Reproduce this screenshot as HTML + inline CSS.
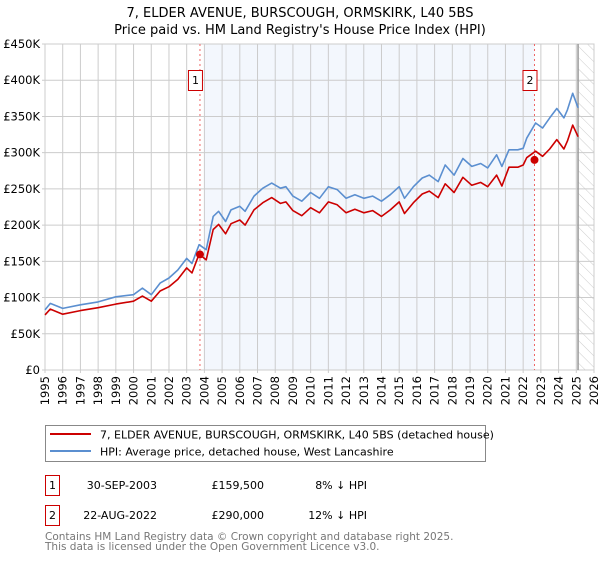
<!DOCTYPE html>
<html><head><meta charset="utf-8"><style>
body{margin:0;background:#fff;font-family:"DejaVu Sans","Liberation Sans",sans-serif;}
svg text{font-family:"DejaVu Sans","Liberation Sans",sans-serif;}
</style></head><body>
<svg id="chart" width="600" height="560" viewBox="0 0 600 560" xmlns="http://www.w3.org/2000/svg">
<defs><pattern id="hatch" width="8" height="8" patternUnits="userSpaceOnUse" patternTransform="rotate(-45)"><line x1="0" y1="0" x2="0" y2="8" stroke="#ccc" stroke-width="1"/></pattern></defs>
<text x="300" y="17" text-anchor="middle" font-size="13">7, ELDER AVENUE, BURSCOUGH, ORMSKIRK, L40 5BS</text>
<text x="300" y="34" text-anchor="middle" font-size="13">Price paid vs. HM Land Registry's House Price Index (HPI)</text>
<g id="plot"></g>
<rect x="45.5" y="425.5" width="440" height="36" fill="#fff" stroke="#888"/>
<line x1="50" y1="434" x2="91" y2="434" stroke="#cc0000" stroke-width="2"/>
<text x="100" y="438.5" font-size="11">7, ELDER AVENUE, BURSCOUGH, ORMSKIRK, L40 5BS (detached house)</text>
<line x1="50" y1="451" x2="91" y2="451" stroke="#5b8fd0" stroke-width="2"/>
<text x="100" y="455.5" font-size="11">HPI: Average price, detached house, West Lancashire</text>
<g font-size="11">
<rect x="45.5" y="475.5" width="14" height="20" fill="#fff" stroke="#cc0000"/>
<text x="52.5" y="489" text-anchor="middle">1</text>
<text x="157" y="489" text-anchor="end">30-SEP-2003</text>
<text x="264" y="489" text-anchor="end">£159,500</text>
<text x="367" y="489" text-anchor="end">8% ↓ HPI</text></g>
<g font-size="11">
<rect x="45.5" y="505.5" width="14" height="20" fill="#fff" stroke="#cc0000"/>
<text x="52.5" y="519" text-anchor="middle">2</text>
<text x="157" y="519" text-anchor="end">22-AUG-2022</text>
<text x="264" y="519" text-anchor="end">£290,000</text>
<text x="367" y="519" text-anchor="end">12% ↓ HPI</text></g>
<text x="45" y="540" font-size="10.5" fill="#777">Contains HM Land Registry data © Crown copyright and database right 2025.</text>
<text x="45" y="550" font-size="10.5" fill="#777">This data is licensed under the Open Government Licence v3.0.</text>
</svg>
<script>
const years=[1995,1995.3,1996,1997,1998,1999,2000,2000.5,2001,2001.5,2002,2002.5,2003,2003.3,2003.7,2004.1,2004.5,2004.8,2005.2,2005.5,2006,2006.3,2006.8,2007.3,2007.8,2008.3,2008.6,2009,2009.5,2010,2010.5,2011,2011.5,2012,2012.5,2013,2013.5,2014,2014.5,2015,2015.3,2015.8,2016.3,2016.7,2017.2,2017.6,2018.1,2018.6,2019.1,2019.6,2020,2020.5,2020.8,2021.2,2021.7,2022,2022.2,2022.7,2023.1,2023.5,2023.9,2024.3,2024.5,2024.8,2025.1];
const hpi=[83,92,85,90,94,101,104,113,104,120,127,138,154,147,173,166,212,219,205,221,226,219,240,251,258,251,253,240,233,245,237,253,249,237,242,237,240,233,242,253,237,253,265,269,260,283,269,292,281,285,279,297,281,304,304,306,320,341,334,348,361,348,359,382,362];
const price=[76,84,77,82,86,91,95,102,95,109,115,125,141,134,160,152,194,201,188,202,207,200,221,231,238,230,232,220,213,224,217,232,228,217,222,217,220,212,221,232,216,231,243,247,238,257,245,266,255,259,253,269,254,280,280,283,293,302,295,305,318,305,316,338,322];
const ticksY=[0,50,100,150,200,250,300,350,400,450];
const tickYears=[1995,1996,1997,1998,1999,2000,2001,2002,2003,2004,2005,2006,2007,2008,2009,2010,2011,2012,2013,2014,2015,2016,2017,2018,2019,2020,2021,2022,2023,2024,2025,2026];
const sales=[{n:'1',t:2003.75,v:159.5},{n:'2',t:2022.64,v:290}];
const X0=45,X1=594,Y0=370,Y1=44;
const xs=t=>X0+(t-1995)/(2026-1995)*(X1-X0);
const ys=v=>Y0-v/450*(Y0-Y1);
const NS='http://www.w3.org/2000/svg';
const g=document.getElementById('plot');
function mk(tag,attrs,parent){const e=document.createElementNS(NS,tag);for(const k in attrs)e.setAttribute(k,attrs[k]);(parent||g).appendChild(e);return e;}
let e;
e=mk('rect',{x:xs(2004),y:Y1,width:xs(sales[1].t)-xs(2004),height:Y0-Y1,fill:'#eef3fc',opacity:0.7});


e=mk('rect',{x:xs(2025.1),y:Y1,width:X1-xs(2025.1),height:Y0-Y1,fill:'url(#hatch)'});


tickYears.forEach(y=>{
 e=mk('line',{x1:xs(y),x2:xs(y),y1:Y1,y2:Y0+3,stroke:'#ccc'});
 
 
 const tx=xs(y)+4, ty=376;
 e=mk('text',{x:tx,y:ty,'text-anchor':'end','font-size':'11.5',transform:'rotate(-90 '+tx+' '+ty+')'});e.textContent=y;
 
 
});
ticksY.forEach(v=>{
 e=mk('line',{x1:X0-3,x2:X1,y1:ys(v),y2:ys(v),stroke:'#ccc'});
 
 
 e=mk('text',{x:40,y:ys(v)+4,'text-anchor':'end','font-size':'11.5'});e.textContent=v===0?'£0':'£'+v+'K';
 
 
});
e=mk('rect',{x:X0,y:Y1,width:X1-X0,height:Y0-Y1,fill:'none',stroke:'#ccc'});


e=mk('line',{x1:xs(2025.1),x2:xs(2025.1),y1:Y1,y2:Y0,stroke:'#999','stroke-width':1.5});


sales.forEach(s=>{
 e=mk('line',{x1:xs(s.t),x2:xs(s.t),y1:Y1,y2:Y0,stroke:'#e66','stroke-dasharray':'2,3'});
 
 
});
function path(vals,col,name){
 const d=vals.map((v,i)=>(i?'L':'M')+xs(years[i]).toFixed(1)+','+ys(v).toFixed(1)).join('');
 const p=mk('path',{d:d,fill:'none',stroke:col,'stroke-width':1.6,'stroke-linejoin':'round'});
 
 
}
path(hpi,'#5b8fd0','hpi-line');
path(price,'#cc0000','price-line');
sales.forEach(s=>{
 e=mk('circle',{cx:xs(s.t),cy:ys(s.v),r:4,fill:'#cc0000'});
 
 
 e=mk('rect',{x:xs(s.t)-11.5,y:70.5,width:14,height:20,fill:'#fff',stroke:'#cc0000'});
 
 
 e=mk('text',{x:xs(s.t)-4.5,y:84,'text-anchor':'middle','font-size':'11'});e.textContent=s.n;
 
 
});
</script>
</body></html>
